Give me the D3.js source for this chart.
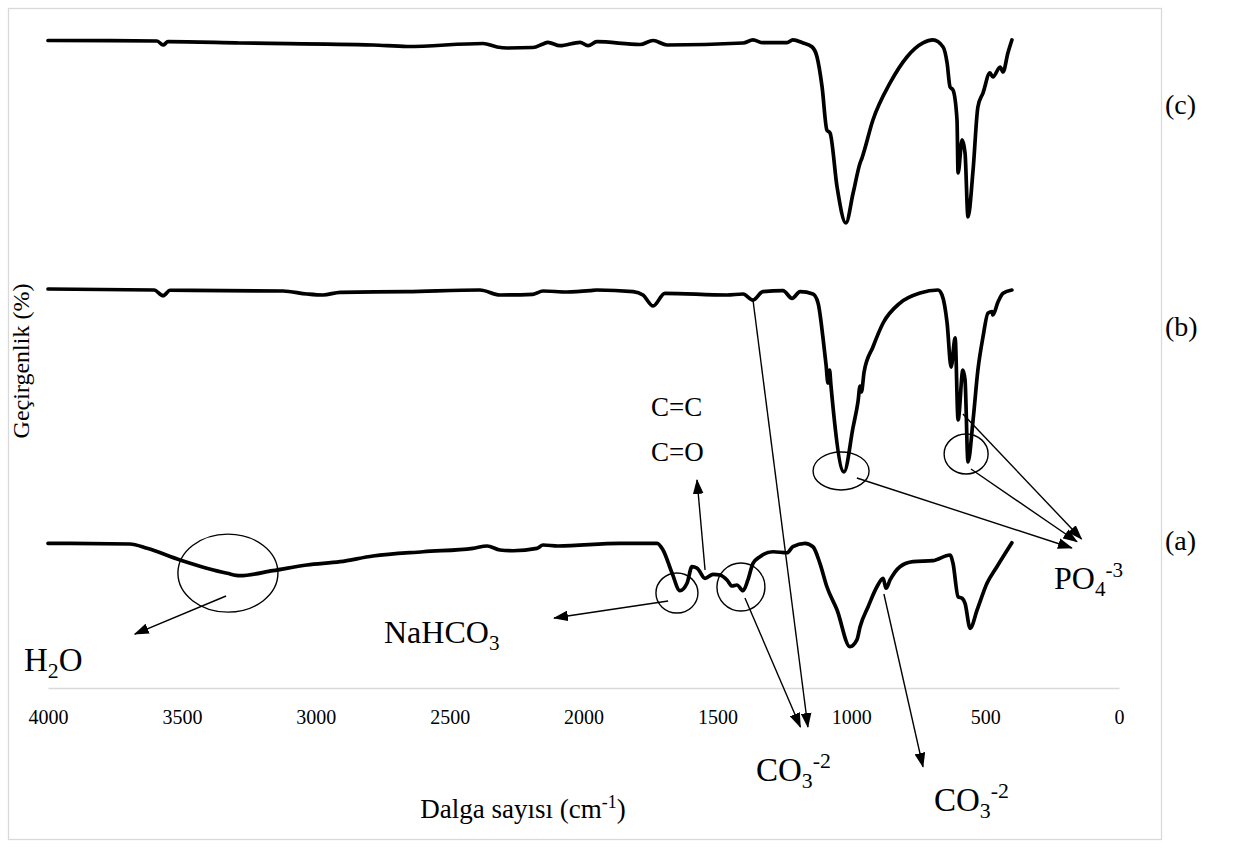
<!DOCTYPE html>
<html>
<head>
<meta charset="utf-8">
<script src="https://cdn.jsdelivr.net/npm/d3@7/dist/d3.min.js"></script>
<style>
  html, body { margin: 0; padding: 0; background: #fff; }
  svg { display: block; }
  text { font-family: "Liberation Serif", "Times New Roman", serif; fill: #000; }
</style>
</head>
<body>
<svg id="chart" width="1245" height="849"></svg>
<script>
// Wavenumber axis ticks (cm-1)
const waveTicks = [4000, 3500, 3000, 2500, 2000, 1500, 1000, 500, 0];

// FTIR spectra: [wavenumber (cm-1), transmittance (stacked %)]
const spectrumC = [
  [4000, 96.93], [3593, 96.86], [3570, 96.26], [3552, 96.75], [3283, 96.56],
  [2786, 96.26], [2659, 96.03], [2375, 96.48], [2323, 95.96], [2286, 95.81],
  [2189, 95.88], [2151, 96.41], [2133, 96.66], [2088, 96.15], [2013, 96.66],
  [1983, 96.15], [1950, 96.75], [1789, 96.33], [1740, 96.93], [1688, 96.26],
  [1404, 96.56], [1367, 97.01], [1330, 96.60], [1240, 96.60], [1218, 97.01],
  [1180, 96.56], [1147, 96.00], [1128, 94.51], [1109, 90.01], [1091, 83.53],
  [1079, 83.08], [1053, 75.00], [1020, 69.61], [993, 74.10], [967, 78.59],
  [960, 79.34], [919, 85.03], [855, 90.57], [792, 94.46], [732, 96.56],
  [695, 97.01], [657, 95.96], [642, 93.56], [631, 89.97], [620, 89.52],
  [605, 85.03], [601, 77.10], [586, 82.04], [575, 80.09], [564, 70.51],
  [545, 77.54], [527, 86.98], [508, 89.07], [482, 92.07], [471, 91.47],
  [444, 92.96], [433, 92.22], [415, 95.06], [400, 97.01]
];

const spectrumB = [
  [4000, 59.73], [3604, 59.58], [3570, 58.73], [3544, 59.54], [3122, 59.43],
  [3033, 58.98], [2973, 58.83], [2909, 59.24], [2659, 59.33], [2387, 59.58],
  [2312, 58.83], [2189, 58.94], [2151, 59.43], [2062, 59.28], [1976, 59.48],
  [1950, 59.58], [1815, 59.33], [1778, 58.83], [1740, 57.19], [1696, 59.09],
  [1464, 58.83], [1404, 58.98], [1367, 58.08], [1330, 59.33], [1255, 59.48],
  [1221, 58.34], [1191, 59.33], [1143, 58.98], [1124, 57.63], [1106, 52.59],
  [1094, 48.35], [1087, 45.66], [1081, 47.60], [1076, 45.36], [1027, 32.34],
  [993, 39.07], [975, 42.81], [967, 45.21], [962, 44.31], [952, 47.31],
  [919, 51.05], [881, 54.64], [818, 57.63], [743, 59.13], [676, 59.58],
  [661, 58.83], [642, 54.64], [627, 48.05], [612, 52.40], [601, 40.12],
  [583, 47.60], [575, 46.11], [564, 33.83], [545, 40.12], [527, 47.60],
  [508, 52.54], [489, 56.14], [474, 56.33], [471, 55.84], [452, 57.78],
  [433, 59.09], [400, 59.58]
];

const spectrumA = [
  [4000, 21.66], [3694, 21.56], [3630, 20.91], [3507, 19.16], [3331, 17.17],
  [3283, 16.81], [3160, 17.56], [3033, 18.41], [2909, 18.91], [2786, 19.76],
  [2599, 20.40], [2413, 20.91], [2360, 21.26], [2312, 20.66], [2263, 20.55],
  [2174, 20.91], [2151, 21.41], [2095, 21.26], [1864, 21.66], [1725, 21.66],
  [1703, 20.66], [1669, 17.17], [1640, 14.57], [1613, 15.72], [1595, 18.16],
  [1576, 17.96], [1546, 16.42], [1516, 17.02], [1490, 16.92], [1464, 16.17],
  [1445, 15.27], [1427, 15.42], [1404, 14.57], [1386, 16.17], [1367, 18.67],
  [1341, 19.66], [1292, 20.40], [1240, 20.25], [1218, 21.15], [1173, 21.66],
  [1143, 21.15], [1117, 18.67], [1091, 15.16], [1053, 11.68], [1005, 6.18],
  [979, 7.19], [967, 9.18], [937, 12.17], [904, 15.16], [881, 16.42],
  [870, 14.93], [855, 16.17], [818, 18.16], [769, 18.91], [695, 19.06],
  [631, 19.91], [620, 18.67], [601, 13.67], [586, 13.43], [575, 12.68],
  [556, 8.94], [530, 11.68], [493, 15.67], [456, 18.16], [400, 21.75]
];

// Sample labels on the right
const sampleNames = ["(c)", "(b)", "(a)"];
const sampleLevels = [87.3, 54.0, 22.0];

// Band markers (ellipses) in data units: [wavenumber, level]
const bandMarks = [
  [3328, 17.2], [1651, 14.22], [1412, 15.12], [1038, 32.49], [571, 35.03]
];

// Leader arrows: [fromWn, fromLevel, toWn, toLevel]
const leaders = [
  [3335, 13.77, 3676, 8.08],     // H2O
  [1684, 13.02, 2110, 10.48],    // NaHCO3
  [1546, 17.66, 1576, 31.14],    // C=C / C=O
  [1397, 13.47, 1190, -5.84],    // CO3 (a)
  [1367, 58.08, 1162, -5.84],    // CO3 (b)
  [878, 14.07, 732, -11.8],      // CO3 (a) 870
  [979, 31.44, 176, 20.96],      // PO4 1030
  [553, 32.78, 157, 21.9],       // PO4 565
  [583, 41.02, 140, 22.3]        // PO4 600
];

const svg = d3.select("#chart");

const x = d3.scaleLinear().domain([4000, 0]).range([48, 1119]);
const y = d3.scaleLinear().domain([0, 100]).range([688, 20]);

// Outer chart frame
svg.append("rect")
  .attr("x", 8.5).attr("y", 8.5)
  .attr("width", 1153).attr("height", 831)
  .attr("fill", "none").attr("stroke", "#d9d9d9").attr("stroke-width", 1.3);

// X axis
const xAxis = d3.axisBottom(x).tickValues(waveTicks).tickSize(0).tickPadding(22)
  .tickFormat(d3.format("d"));
const gx = svg.append("g").attr("transform", `translate(0,${y(0)})`).call(xAxis);
gx.select(".domain").attr("stroke", "#d9d9d9").attr("stroke-width", 1.6);
gx.selectAll(".tick text")
  .attr("font-size", 20).attr("fill", "#000");

// Spectra
const line = d3.line()
  .x(d => x(d[0]))
  .y(d => y(d[1]))
  .curve(d3.curveMonotoneX);

[spectrumC, spectrumB, spectrumA].forEach(s => {
  svg.append("path")
    .datum(s)
    .attr("d", line)
    .attr("fill", "none")
    .attr("stroke", "#000")
    .attr("stroke-width", 3.7)
    .attr("stroke-linejoin", "round")
    .attr("stroke-linecap", "round");
});

// Arrowhead marker
const defs = svg.append("defs");
defs.append("marker")
  .attr("id", "arrow")
  .attr("viewBox", "0 0 14 10")
  .attr("refX", 13).attr("refY", 5)
  .attr("markerWidth", 15).attr("markerHeight", 11)
  .attr("markerUnits", "userSpaceOnUse")
  .attr("orient", "auto")
  .append("path")
  .attr("d", "M0,0 L14,5 L0,10 Z")
  .attr("fill", "#000");

// Band ellipses
const ellipseSize = [[50, 39], [21, 20], [24, 24], [28, 19], [22, 20]];
svg.append("g").selectAll("ellipse")
  .data(bandMarks)
  .join("ellipse")
  .attr("cx", d => x(d[0]))
  .attr("cy", d => y(d[1]))
  .attr("rx", (d, i) => ellipseSize[i][0])
  .attr("ry", (d, i) => ellipseSize[i][1])
  .attr("fill", "none")
  .attr("stroke", "#000")
  .attr("stroke-width", 1.4);

// Leader arrows
svg.append("g").selectAll("line")
  .data(leaders)
  .join("line")
  .attr("x1", d => x(d[0])).attr("y1", d => y(d[1]))
  .attr("x2", d => x(d[2])).attr("y2", d => y(d[3]))
  .attr("stroke", "#000")
  .attr("stroke-width", 1.4)
  .attr("marker-end", "url(#arrow)");

// Rich text helper: parts = [[text, "n"|"sub"|"sup"], ...]
function richText(g, px, py, size, parts, anchor) {
  const t = g.append("text")
    .attr("x", px).attr("y", py)
    .attr("font-size", size)
    .attr("text-anchor", anchor || "start");
  let shift = 0;
  parts.forEach(([s, kind]) => {
    let target = 0;
    if (kind === "sub") target = 0.22 * size;
    if (kind === "sup") target = -0.38 * size;
    const ts = t.append("tspan").text(s).attr("dy", target - shift);
    if (kind !== "n") ts.attr("font-size", size * 0.66);
    shift = target;
  });
  return t;
}

const ann = svg.append("g");

richText(ann, 24, 671, 33, [["H", "n"], ["2", "sub"], ["O", "n"]]);
richText(ann, 384, 643, 32, [["NaHCO", "n"], ["3", "sub"]]);
richText(ann, 651, 416, 27, [["C=C", "n"]]);
richText(ann, 651, 461, 27, [["C=O", "n"]]);
richText(ann, 756, 781, 33, [["CO", "n"], ["3", "sub"], ["-2", "sup"]]);
richText(ann, 934, 811, 33, [["CO", "n"], ["3", "sub"], ["-2", "sup"]]);
richText(ann, 1054, 589, 32, [["PO", "n"], ["4", "sub"], ["-3", "sup"]]);

// Axis titles
richText(svg, 523, 818, 27, [["Dalga sayısı (cm", "n"], ["-1", "sup"], [")", "n"]], "middle");
svg.append("text")
  .attr("transform", "translate(29,361) rotate(-90)")
  .attr("text-anchor", "middle")
  .attr("font-size", 24)
  .text("Geçirgenlik (%)");

// Sample labels
svg.append("g").selectAll("text")
  .data(sampleNames)
  .join("text")
  .attr("x", 1165)
  .attr("y", (d, i) => y(sampleLevels[i]) + 9)
  .attr("font-size", 28)
  .text(d => d);
</script>
</body>
</html>
